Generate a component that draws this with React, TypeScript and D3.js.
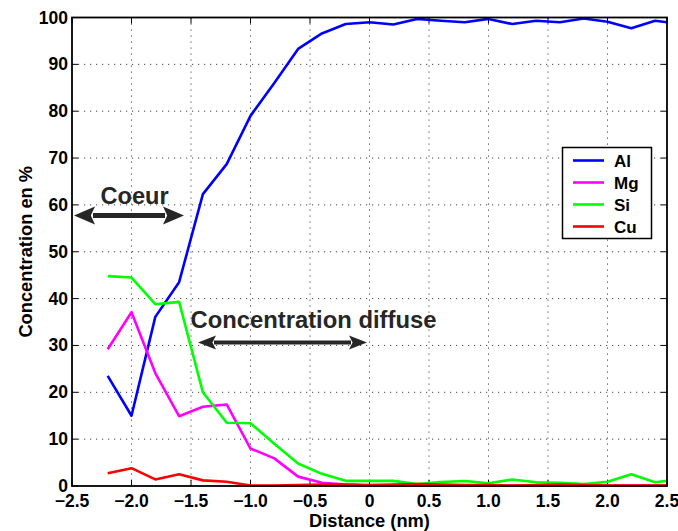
import React from "react";
import * as d3 from "d3";

const distance = [-2.2, -2.0, -1.8, -1.6, -1.4, -1.2, -1.0, -0.8, -0.6, -0.4, -0.2, 0, 0.2, 0.4, 0.6, 0.8, 1.0, 1.2, 1.4, 1.6, 1.8, 2.0, 2.2, 2.4, 2.6];
const al = [23.5, 15.0, 36.1, 43.5, 62.3, 68.7, 79.0, 86.0, 93.3, 96.6, 98.6, 99.0, 98.5, 99.7, 99.3, 99.0, 99.7, 98.6, 99.3, 99.0, 99.8, 99.1, 97.7, 99.3, 98.7];
const mg = [29.2, 37.1, 24.1, 14.9, 16.9, 17.4, 8.0, 5.9, 2.0, 0.7, 0.3, 0.1, 0.1, 0.1, 0.1, 0.1, 0.1, 0.1, 0.1, 0.1, 0.1, 0.1, 0.1, 0.1, 0.1];
const si = [44.8, 44.5, 38.8, 39.3, 20.0, 13.5, 13.4, 9.0, 4.8, 2.6, 1.1, 1.1, 1.1, 0.4, 0.85, 1.07, 0.57, 1.4, 0.8, 0.7, 0.4, 0.9, 2.5, 0.8, 1.4];
const cu = [2.7, 3.8, 1.4, 2.5, 1.2, 0.9, 0.1, 0.1, 0.2, 0.3, 0.3, 0.2, 0.3, 0.4, 0.3, 0.2, 0.2, 0.1, 0.2, 0.3, 0.2, 0.1, 0.1, 0.1, 0.1];

const seriesNames = ["Al", "Mg", "Si", "Cu"];
const seriesColors = ["#0000ff", "#ff00ff", "#00ff00", "#ff0000"];
const seriesValues = [al, mg, si, cu];

const xTicks = [-2.5, -2.0, -1.5, -1.0, -0.5, 0, 0.5, 1.0, 1.5, 2.0, 2.5];
const yTicks = [0, 10, 20, 30, 40, 50, 60, 70, 80, 90, 100];

const W = 678;
const H = 531;
const L = 72, R = 667, T = 17.5, B = 486;

const fmtX = (v: number) => {
  if (v === 0) return "0";
  const s = Math.abs(v).toFixed(1);
  return v < 0 ? "\u2212" + s : s;
};

export default function App() {
  const x = d3.scaleLinear().domain([-2.5, 2.5]).range([L, R]);
  const y = d3.scaleLinear().domain([0, 100]).range([B, T]);
  const font = "'Liberation Sans', Arial, Helvetica, sans-serif";
  const line = (vals: number[]) =>
    d3.line<number>().x((_, i) => x(distance[i])).y((d) => y(d))(vals) || "";

  const arrow = (x1: number, x2: number, yy: number, hl: number, hw: number, sw: number, key: string) => (
    <g key={key} fill="#262626" stroke="none">
      <line x1={x1 + hl - 2} x2={x2 - hl + 2} y1={yy} y2={yy} stroke="#262626" strokeWidth={sw} />
      <path d={`M${x1},${yy} L${x1 + hl},${yy - hw} L${x1 + hl * 0.8},${yy} L${x1 + hl},${yy + hw} Z`} />
      <path d={`M${x2},${yy} L${x2 - hl},${yy - hw} L${x2 - hl * 0.8},${yy} L${x2 - hl},${yy + hw} Z`} />
    </g>
  );

  const legX = 562.5, legY = 147.5, legW = 89, legH = 91;

  return (
    <svg width={W} height={H} style={{ position: "absolute", left: 0, top: 0, background: "#fff" }} fontFamily={font}>
      <rect x={0} y={0} width={W} height={H} fill="#fff" />
      <defs>
        <clipPath id="plotclip">
          <rect x={L} y={T - 3} width={R - L} height={B - T + 6} />
        </clipPath>
      </defs>
      {/* grid */}
      <g stroke="#444" strokeWidth={1} strokeDasharray="1.2,4.8">
        {xTicks.slice(1, -1).map((t) => (
          <line key={"gx" + t} x1={x(t)} x2={x(t)} y1={T} y2={B} />
        ))}
        {yTicks.slice(1, -1).map((t) => (
          <line key={"gy" + t} x1={L} x2={R} y1={y(t)} y2={y(t)} />
        ))}
      </g>
      {/* ticks */}
      <g stroke="#000" strokeWidth={1}>
        {xTicks.map((t) => (
          <g key={"tx" + t}>
            <line x1={x(t)} x2={x(t)} y1={B} y2={B - 6} />
            <line x1={x(t)} x2={x(t)} y1={T} y2={T + 6} />
          </g>
        ))}
        {yTicks.map((t) => (
          <g key={"ty" + t}>
            <line x1={L} x2={L + 6} y1={y(t)} y2={y(t)} />
            <line x1={R} x2={R - 6} y1={y(t)} y2={y(t)} />
          </g>
        ))}
      </g>
      {/* data */}
      <g clipPath="url(#plotclip)" fill="none" strokeWidth={2.6} strokeLinejoin="round">
        {seriesValues.map((vals, i) => (
          <path key={seriesNames[i]} d={line(vals)} stroke={seriesColors[i]} />
        ))}
      </g>
      {/* frame */}
      <rect x={L} y={T} width={R - L} height={B - T} fill="none" stroke="#000" strokeWidth={1.8} />
      {/* tick labels */}
      <g fontWeight="bold" fontSize={17.5} fill="#000">
        {xTicks.map((t) => (
          <text key={"lx" + t} x={x(t)} y={507} textAnchor="middle">{fmtX(t)}</text>
        ))}
        {yTicks.map((t) => (
          <text key={"ly" + t} x={L - 4} y={y(t) + 6} textAnchor="end">{String(t)}</text>
        ))}
      </g>
      {/* axis labels */}
      <text x={(L + R) / 2} y={527} textAnchor="middle" fontWeight="bold" fontSize={18.3}>Distance (nm)</text>
      <text transform={`translate(32,${(T + B) / 2}) rotate(-90)`} textAnchor="middle" fontWeight="bold" fontSize={18.3}>Concentration en %</text>
      {/* annotations */}
      <text x={100.5} y={204} fontWeight="bold" fontSize={23.6} fill="#262626">Coeur</text>
      {arrow(74, 184, 215.5, 21, 9, 5, "a1")}
      <text x={190.5} y={328} fontWeight="bold" fontSize={23.8} fill="#262626">Concentration diffuse</text>
      {arrow(198, 367, 342.5, 18, 7, 4, "a2")}
      {/* legend */}
      <rect x={legX} y={legY} width={legW} height={legH} fill="#fff" stroke="#000" strokeWidth={1.5} />
      {seriesNames.map((n, i) => (
        <g key={"leg" + n}>
          <line x1={573} x2={604} y1={160.5 + i * 22} y2={160.5 + i * 22} stroke={seriesColors[i]} strokeWidth={2.6} />
          <text x={614} y={166.5 + i * 22} fontWeight="bold" fontSize={17}>{n}</text>
        </g>
      ))}
    </svg>
  );
}
